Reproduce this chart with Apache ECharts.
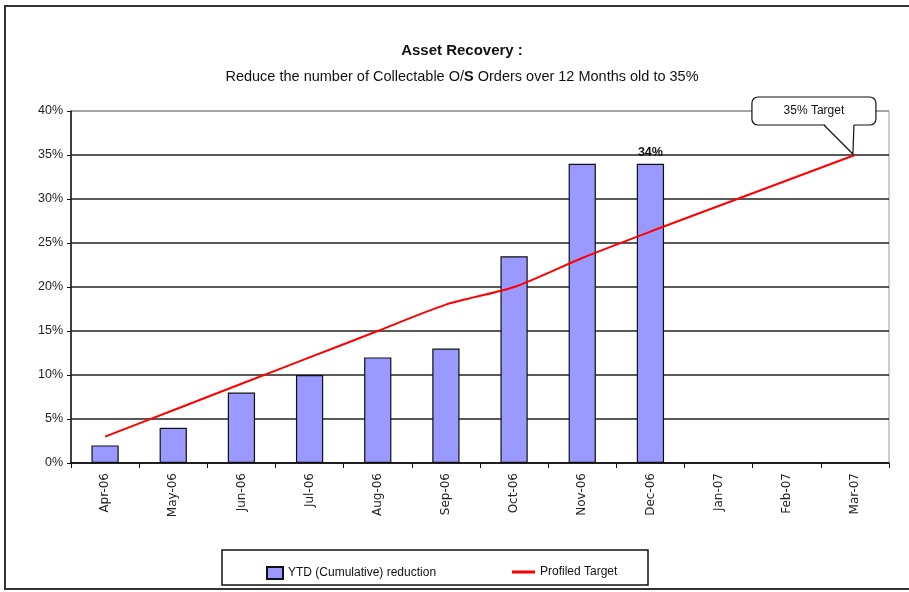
<!DOCTYPE html>
<html><head><meta charset="utf-8">
<script src="https://cdn.jsdelivr.net/npm/echarts@6/dist/echarts.min.js"></script>
<style>html,body{margin:0;padding:0;background:#fff}#c{width:909px;height:592px}</style>
</head><body><div id="c"></div>
<script>
var categories = ['Apr-06','May-06','Jun-06','Jul-06','Aug-06','Sep-06','Oct-06','Nov-06','Dec-06','Jan-07','Feb-07','Mar-07'];
var ytdReduction = [2, 4, 8, 10, 12, 13, 23.5, 34, 34, null, null, null];
var profiledTarget = [3, 6, 9, 12, 15, 18, 20, 23.3, 26.3, 29.2, 32.1, 35];
var yTicks = [0, 5, 10, 15, 20, 25, 30, 35, 40];
var labelledBar = 8;
var calloutText = '35% Target';

var NARROW = '"Liberation Sans Narrow","Arial Narrow","Liberation Sans",sans-serif';
var chart = echarts.init(document.getElementById('c'));
var gridColors = ['#222','#222','#222','#222','#222','#222','#222','#222','#999'];

chart.setOption({
  animation: false,
  backgroundColor: '#fff',
  title: {
    text: 'Asset Recovery :',
    subtext: '{n|Reduce the number of Collectable O/}{b|S}{n| Orders over 12 Months old to 35%}',
    left: 457, textAlign: 'center', top: 38, itemGap: 11,
    textStyle: { fontFamily: NARROW, fontSize: 15, fontWeight: 'bold', color: '#111' },
    subtextStyle: { fontFamily: NARROW, fontSize: 14.5, color: '#111',
      rich: { n: { fontFamily: NARROW, fontSize: 14.5, color: '#111' },
              b: { fontFamily: NARROW, fontSize: 14.5, color: '#111', fontWeight: 'bold' } } }
  },
  grid: { left: 71, right: 20, top: 111, bottom: 129, show: true, borderColor: '#999', borderWidth: 1 },
  legend: [
    { data: [{ name: 'YTD (Cumulative) reduction', icon: 'rect' }], left: 261, top: 561,
      itemWidth: 16, itemHeight: 12, itemGap: 4,
      textStyle: { fontFamily: NARROW, fontSize: 12, color: '#111' } },
    { data: [{ name: 'Profiled Target', icon: 'rect' }], left: 507, top: 561,
      itemWidth: 23, itemHeight: 3,
      textStyle: { fontFamily: NARROW, fontSize: 12, color: '#111' } }
  ],
  xAxis: {
    type: 'category', data: categories, boundaryGap: true,
    axisLine: { lineStyle: { color: '#111', width: 1.5 } },
    axisTick: { show: true, length: 5, alignWithLabel: false, lineStyle: { color: '#111' } },
    axisLabel: { rotate: 90, interval: 0, margin: 10, fontFamily: '"DejaVu Sans",sans-serif', fontSize: 12, color: '#222' },
    splitLine: { show: false }
  },
  yAxis: {
    type: 'value', min: 0, max: 40, interval: 5,
    axisLine: { show: true, lineStyle: { color: '#111', width: 1.5 } },
    axisTick: { show: true, length: 4, lineStyle: { color: '#111' } },
    axisLabel: { formatter: function (v) { return yTicks.indexOf(v) >= 0 ? v + '%' : ''; },
      fontFamily: NARROW, fontSize: 12.5, color: '#222', margin: 8 },
    splitLine: { show: true, lineStyle: { color: gridColors, width: 1.5 } }
  },
  series: [
    { name: 'YTD (Cumulative) reduction', type: 'bar', barWidth: '40%',
      data: ytdReduction.map(function (v, i) {
        return i === labelledBar ? { value: v, label: { show: true, position: 'top', distance: 5,
          formatter: function (p) { return Math.round(p.value) + '%'; },
          fontFamily: NARROW, fontSize: 12.5, fontWeight: 'bold', color: '#111' } } : v;
      }),
      itemStyle: { color: '#9999FF', borderColor: '#111', borderWidth: 1.2 } },
    { name: 'Profiled Target', type: 'line', data: profiledTarget, smooth: 0.25,
      showSymbol: false, symbol: 'none',
      lineStyle: { color: '#FF0000', width: 2 }, itemStyle: { color: '#FF0000' } }
  ]
});

var tip = chart.convertToPixel({ seriesIndex: 1 }, [categories.length - 1, profiledTarget[profiledTarget.length - 1]]);
var px = tip[0], py = tip[1];
chart.setOption({
  graphic: [
    { type: 'rect', shape: { x: 5, y: 6, width: 910, height: 583 }, style: { fill: 'none', stroke: '#333', lineWidth: 2 }, silent: true },
    { type: 'rect', shape: { x: 222, y: 550, width: 426, height: 35 }, style: { fill: 'none', stroke: '#111', lineWidth: 1.5 }, silent: true },
    { type: 'rect', z: 100, shape: { x: px - 103, y: py - 58, width: 124, height: 28, r: 6 },
      style: { fill: '#fff', stroke: '#111', lineWidth: 1.2 }, silent: true },
    { type: 'polygon', z: 101, shape: { points: [[px - 31, py - 31.5], [px - 1, py - 31.5], [px - 2, py - 1]] },
      style: { fill: '#fff', stroke: null }, silent: true },
    { type: 'polyline', z: 102, shape: { points: [[px - 31, py - 30], [px - 2, py - 1], [px - 1, py - 30]] },
      style: { fill: null, stroke: '#111', lineWidth: 1.2 }, silent: true },
    { type: 'text', z: 103, x: px - 41, y: py - 44,
      style: { text: calloutText, fontFamily: NARROW, fontSize: 12, fill: '#111', align: 'center', verticalAlign: 'middle' } }
  ]
});
</script>
</body></html>
